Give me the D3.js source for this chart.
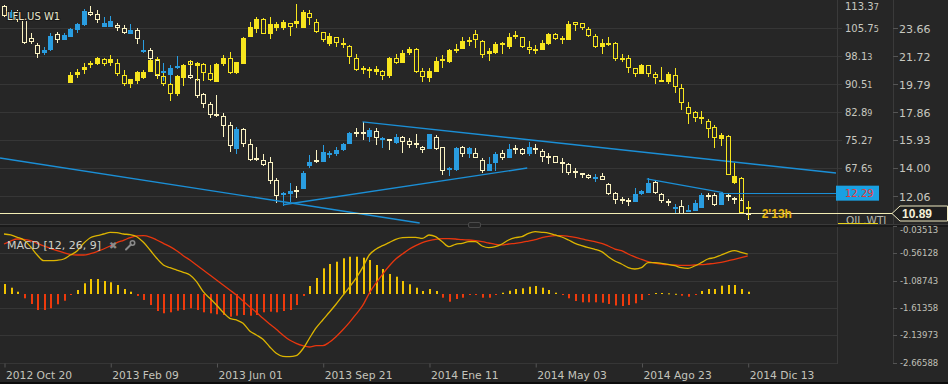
<!DOCTYPE html>
<html>
<head>
<meta charset="utf-8">
<script src="https://cdnjs.cloudflare.com/ajax/libs/d3/7.8.5/d3.min.js"></script>
<style>
  html, body { margin: 0; padding: 0; background: #262626; }
  #chart { width: 948px; height: 384px; overflow: hidden; }
</style>
</head>
<body>
<div id="chart"></div>
<script>
// weekly bars, index 0 = 2012 Oct 20
const dateIdx = [0, 16, 32, 48, 64, 80, 96, 112];
const dateLabels = ["2012 Oct 20", "2013 Feb 09", "2013 Jun 01", "2013 Sep 21", "2014 Ene 11", "2014 May 03", "2014 Ago 23", "2014 Dic 13"];

// last oil tick (60.03) sits under the alert box, so it gets a gridline but no label
const oilTicks = [113.37, 105.75, 98.13, 90.51, 82.89, 75.27, 67.65, 60.03];
const oilTickLabels = [113.37, 105.75, 98.13, 90.51, 82.89, 75.27, 67.65];
const lflTicks = [23.66, 21.72, 19.79, 17.86, 15.93, 14.00, 12.06];
const macdTicks = [-0.03513, -0.56128, -1.08743, -1.61358, -2.13973, -2.66588];

// LFL.US W1
const lflOpen = [25.18, 24.42, 24.76, 24.21, 22.97, 22.49, 22.01, 22.21, 23.25, 22.90,
  23.11, 23.59, 23.94, 24.76, 24.63, 23.80, 23.80, 23.87, 23.66, 23.32,
  23.52, 22.11, 22.14, 21.45, 20.63, 20.49, 21.01, 20.90, 20.42, 20.15,
  19.11, 18.42, 17.70, 17.59, 16.97, 15.39, 16.70, 15.66, 14.66, 14.56,
  14.42, 13.18, 12.25, 12.29, 12.46, 12.63, 14.22, 14.53, 14.49, 15.01,
  15.04, 15.32, 15.73, 16.46, 16.46, 16.22, 16.56, 16.04, 16.01, 15.80,
  16.15, 15.87, 15.70, 15.46, 15.39, 16.15, 15.46, 13.98, 13.94, 15.46,
  15.04, 15.04, 14.56, 13.87, 14.42, 15.04, 14.77, 15.35, 15.32, 15.04,
  15.35, 15.18, 14.80, 14.84, 14.39, 14.29, 13.77, 13.63, 13.53, 13.36,
  13.46, 12.91, 12.29, 11.84, 11.77, 11.73, 12.29, 12.36, 13.04, 12.22,
  11.70, 11.29, 11.39, 11.08, 11.11, 11.32, 12.11, 12.15, 11.53, 12.11,
  11.91, 11.80, 10.92];
const lflHigh = [25.25, 24.90, 24.90, 24.35, 23.32, 22.63, 22.35, 23.32, 23.38, 23.32,
  23.66, 24.00, 24.97, 25.18, 24.90, 24.42, 24.49, 24.00, 23.87, 23.94,
  23.66, 22.83, 22.28, 21.59, 21.25, 21.11, 21.73, 21.04, 21.39, 20.28,
  19.18, 18.56, 19.04, 17.80, 17.18, 16.84, 16.77, 16.01, 15.46, 14.97,
  14.77, 13.32, 12.36, 12.98, 12.77, 13.80, 14.91, 15.25, 15.60, 15.18,
  15.46, 15.73, 16.49, 16.77, 17.18, 16.77, 16.77, 16.15, 16.01, 16.35,
  16.22, 16.08, 16.35, 15.53, 16.35, 16.28, 15.46, 14.08, 15.46, 15.53,
  15.46, 15.39, 14.70, 14.77, 15.11, 15.25, 15.66, 15.60, 15.39, 15.80,
  15.66, 15.32, 15.04, 14.84, 14.70, 14.35, 14.01, 13.67, 13.60, 13.60,
  13.67, 12.98, 12.36, 12.01, 11.94, 12.63, 12.49, 13.32, 13.18, 12.29,
  11.87, 11.53, 11.80, 11.46, 11.80, 12.29, 12.29, 12.29, 12.36, 12.29,
  12.01, 11.94, 11.11];
const lflLow = [24.49, 24.35, 24.14, 22.63, 22.63, 21.66, 21.87, 22.14, 22.70, 22.90,
  23.11, 23.38, 23.87, 24.56, 24.07, 23.80, 23.80, 23.52, 23.32, 23.32,
  22.63, 22.01, 21.45, 20.28, 20.08, 19.87, 20.90, 20.49, 20.21, 18.90,
  18.21, 17.53, 17.59, 16.22, 15.18, 15.04, 15.53, 14.56, 14.56, 14.22,
  12.98, 11.67, 11.46, 11.73, 12.01, 12.63, 14.08, 14.42, 14.49, 14.77,
  14.91, 15.25, 15.73, 16.22, 16.01, 15.87, 15.66, 15.46, 15.32, 15.73,
  15.11, 15.46, 15.46, 15.11, 15.39, 15.32, 13.60, 13.53, 13.87, 14.84,
  14.77, 14.77, 13.73, 13.87, 13.87, 14.63, 14.77, 15.04, 14.97, 14.91,
  15.04, 14.49, 14.35, 14.42, 13.73, 13.60, 13.39, 13.39, 13.32, 13.11,
  13.25, 12.22, 11.60, 11.60, 11.46, 11.73, 12.22, 12.36, 12.29, 11.67,
  11.46, 10.98, 10.91, 11.05, 11.11, 11.32, 11.87, 11.46, 11.53, 11.80,
  11.60, 10.91, 10.49];
const lflClose = [24.56, 24.76, 24.28, 22.70, 22.76, 21.94, 22.14, 23.11, 22.90, 23.18,
  23.59, 23.94, 24.83, 24.63, 24.28, 24.00, 24.14, 23.73, 23.38, 23.52,
  22.97, 22.14, 21.59, 20.42, 20.66, 20.90, 21.04, 20.63, 20.28, 19.04,
  18.49, 17.73, 17.66, 16.97, 15.60, 16.70, 15.73, 14.63, 14.63, 14.29,
  13.18, 12.15, 12.29, 12.42, 12.42, 13.67, 14.42, 14.49, 15.11, 15.04,
  15.25, 15.66, 16.42, 16.42, 16.39, 16.63, 16.15, 16.08, 15.94, 16.15,
  15.87, 15.66, 15.63, 15.32, 16.35, 15.39, 13.87, 14.01, 15.39, 15.04,
  15.39, 14.77, 13.87, 14.29, 14.97, 14.77, 15.32, 15.28, 15.04, 15.46,
  15.28, 14.84, 14.73, 14.42, 14.35, 13.73, 13.70, 13.56, 13.39, 13.39,
  13.25, 12.29, 11.87, 11.77, 11.70, 12.22, 12.42, 12.98, 12.36, 11.80,
  11.63, 11.32, 10.91, 11.11, 11.60, 12.15, 12.05, 11.53, 12.29, 12.05,
  11.84, 10.98, 10.89];

// OIL.WTI overlay (starts at bar 10)
const oilOpen = [null, null, null, null, null, null, null, null, null, null,
  91.05, 93.23, 94.59, 96.09, 96.23, 97.31, 96.50, 96.23, 92.96, 90.78,
  91.60, 92.42, 94.05, 97.31, 92.69, 90.51, 88.06, 92.42, 96.77, 95.68,
  95.95, 93.50, 91.33, 96.23, 97.59, 93.78, 96.23, 103.57, 105.75, 108.20,
  104.39, 106.02, 106.02, 107.11, 107.11, 106.02, 109.83, 107.38, 104.66, 101.67,
  103.30, 101.67, 100.85, 97.59, 94.73, 94.59, 94.05, 94.05, 92.96, 97.59,
  96.50, 99.22, 100.04, 94.05, 92.42, 94.05, 97.04, 96.77, 99.90, 100.31,
  102.35, 104.12, 102.21, 98.95, 99.22, 101.53, 100.85, 103.71, 103.30, 100.58,
  100.17, 100.04, 101.67, 104.12, 102.89, 102.76, 107.38, 107.11, 105.48, 103.57,
  100.85, 101.53, 101.67, 97.72, 97.59, 94.86, 93.50, 95.68, 93.23, 91.46,
  91.33, 92.96, 89.42, 84.25, 82.89, 81.53, 80.44, 78.81, 75.81, 76.36,
  63.84, 64.93, 56.90];
const oilHigh = [null, null, null, null, null, null, null, null, null, null,
  93.78, 94.59, 96.23, 96.77, 97.86, 97.59, 98.40, 97.31, 94.32, 91.87,
  94.05, 94.32, 97.31, 97.86, 93.50, 90.78, 92.96, 95.95, 97.04, 96.50,
  96.23, 95.68, 96.23, 98.40, 99.22, 96.50, 103.30, 107.38, 108.74, 108.47,
  108.74, 107.38, 107.93, 107.11, 112.28, 110.65, 110.65, 108.20, 104.66, 104.39,
  103.30, 103.03, 101.12, 98.67, 95.41, 95.14, 95.41, 94.32, 97.86, 98.67,
  99.76, 100.58, 100.31, 94.86, 94.86, 97.86, 98.40, 100.04, 101.40, 103.30,
  103.30, 105.21, 102.48, 100.31, 101.94, 101.94, 104.39, 104.93, 103.30, 102.21,
  101.12, 102.48, 104.39, 104.39, 103.57, 107.66, 107.38, 107.11, 106.02, 104.12,
  102.76, 103.30, 101.94, 98.67, 98.40, 94.86, 95.95, 95.68, 93.78, 95.14,
  93.78, 94.86, 90.51, 85.61, 83.16, 83.16, 80.99, 79.35, 77.18, 76.63,
  69.01, 65.20, 58.67];
const oilLow = [null, null, null, null, null, null, null, null, null, null,
  91.05, 92.42, 93.50, 95.14, 95.95, 95.68, 95.68, 92.96, 90.24, 89.69,
  90.78, 92.14, 94.05, 92.14, 90.24, 86.16, 87.52, 90.24, 95.68, 91.60,
  91.60, 91.60, 91.33, 95.68, 93.50, 93.50, 96.23, 103.57, 104.66, 104.39,
  103.03, 105.21, 105.48, 103.85, 106.02, 106.02, 106.84, 104.66, 102.21, 101.12,
  100.85, 100.58, 96.23, 94.32, 93.50, 92.42, 93.23, 91.87, 92.42, 96.23,
  96.50, 98.67, 93.78, 91.33, 91.33, 94.05, 95.14, 96.50, 99.22, 100.31,
  101.12, 100.58, 97.86, 97.04, 98.95, 98.95, 100.31, 103.03, 100.58, 98.95,
  98.95, 100.04, 101.40, 102.76, 101.67, 102.76, 105.21, 105.48, 103.57, 100.58,
  98.95, 101.12, 97.04, 96.77, 93.78, 92.69, 93.50, 92.69, 90.78, 91.33,
  90.78, 88.33, 83.71, 79.90, 80.44, 79.90, 76.09, 73.37, 73.91, 66.02,
  63.57, 55.40, 54.04];
const oilClose = [null, null, null, null, null, null, null, null, null, null,
  92.96, 93.78, 95.14, 96.23, 97.59, 96.23, 97.31, 93.50, 90.78, 91.87,
  93.78, 93.78, 97.04, 93.23, 90.78, 88.06, 92.69, 95.68, 95.95, 96.23,
  93.78, 91.87, 95.95, 97.59, 93.78, 96.50, 103.03, 106.02, 108.20, 104.39,
  106.84, 106.84, 107.38, 106.29, 107.66, 110.10, 108.74, 104.93, 102.76, 103.57,
  101.94, 101.53, 98.13, 94.59, 94.59, 94.46, 94.59, 92.96, 97.59, 96.50,
  98.95, 100.04, 94.05, 92.69, 94.05, 96.77, 97.31, 99.76, 100.04, 102.21,
  102.48, 102.76, 98.67, 99.49, 101.40, 101.67, 103.30, 103.85, 100.85, 100.04,
  100.04, 101.67, 104.12, 103.03, 103.03, 106.84, 106.84, 106.02, 103.85, 100.85,
  101.67, 101.67, 97.59, 97.59, 95.14, 93.50, 95.68, 93.50, 92.42, 91.60,
  93.23, 89.97, 85.61, 82.62, 81.53, 81.39, 78.54, 76.09, 76.63, 66.02,
  65.47, 55.68, 57.17];

// MACD [12, 26, 9]
const macdLine = [-0.190, -0.209, -0.253, -0.305, -0.434, -0.594, -0.704, -0.704, -0.696, -0.671,
  -0.594, -0.517, -0.369, -0.261, -0.223, -0.190, -0.157, -0.165, -0.190, -0.203,
  -0.242, -0.350, -0.498, -0.657, -0.786, -0.838, -0.883, -0.927, -0.979, -1.108,
  -1.300, -1.427, -1.556, -1.696, -1.812, -1.844, -1.908, -2.056, -2.133, -2.216,
  -2.358, -2.485, -2.543, -2.550, -2.531, -2.402, -2.196, -1.998, -1.844, -1.696,
  -1.542, -1.377, -1.215, -1.042, -0.838, -0.594, -0.484, -0.415, -0.357, -0.292,
  -0.261, -0.253, -0.253, -0.273, -0.209, -0.242, -0.338, -0.434, -0.388, -0.369,
  -0.338, -0.338, -0.421, -0.454, -0.434, -0.382, -0.305, -0.261, -0.242, -0.177,
  -0.146, -0.157, -0.171, -0.209, -0.248, -0.305, -0.369, -0.415, -0.454, -0.484,
  -0.530, -0.627, -0.709, -0.767, -0.838, -0.863, -0.838, -0.742, -0.742, -0.754,
  -0.773, -0.800, -0.838, -0.850, -0.806, -0.742, -0.671, -0.646, -0.594, -0.542,
  -0.511, -0.542, -0.575];
const signalLine = [-0.382, -0.325, -0.286, -0.292, -0.319, -0.369, -0.421, -0.465, -0.511, -0.550,
  -0.581, -0.594, -0.594, -0.569, -0.530, -0.479, -0.421, -0.357, -0.311, -0.261,
  -0.228, -0.223, -0.248, -0.305, -0.369, -0.434, -0.511, -0.607, -0.690, -0.786,
  -0.883, -0.979, -1.075, -1.171, -1.267, -1.363, -1.479, -1.589, -1.696, -1.812,
  -1.921, -2.023, -2.133, -2.229, -2.293, -2.339, -2.364, -2.339, -2.339, -2.273,
  -2.166, -2.037, -1.896, -1.735, -1.569, -1.331, -1.138, -0.965, -0.806, -0.671,
  -0.575, -0.484, -0.415, -0.357, -0.319, -0.292, -0.280, -0.280, -0.286, -0.300,
  -0.305, -0.319, -0.338, -0.363, -0.388, -0.401, -0.382, -0.369, -0.350, -0.325,
  -0.300, -0.261, -0.234, -0.223, -0.223, -0.234, -0.253, -0.286, -0.311, -0.338,
  -0.369, -0.421, -0.479, -0.511, -0.575, -0.632, -0.677, -0.723, -0.748, -0.767,
  -0.781, -0.786, -0.792, -0.792, -0.786, -0.781, -0.767, -0.754, -0.734, -0.709,
  -0.677, -0.646, -0.613];
const macdHist = [0.192, 0.121, 0.044, -0.083, -0.192, -0.308, -0.308, -0.275, -0.198, -0.129,
  -0.019, 0.077, 0.206, 0.288, 0.288, 0.250, 0.225, 0.173, 0.096, 0.044,
  -0.038, -0.115, -0.212, -0.327, -0.371, -0.352, -0.321, -0.308, -0.275, -0.308,
  -0.352, -0.371, -0.390, -0.404, -0.437, -0.417, -0.404, -0.417, -0.404, -0.352,
  -0.340, -0.352, -0.327, -0.308, -0.212, -0.038, 0.154, 0.308, 0.494, 0.577,
  0.621, 0.687, 0.717, 0.717, 0.698, 0.654, 0.558, 0.481, 0.385, 0.333,
  0.250, 0.187, 0.121, 0.058, 0.096, 0.058, -0.071, -0.148, -0.096, -0.071,
  -0.019, -0.006, -0.071, -0.071, -0.019, 0.025, 0.063, 0.096, 0.110, 0.140,
  0.154, 0.121, 0.077, 0.025, -0.019, -0.083, -0.135, -0.160, -0.160, -0.160,
  -0.167, -0.192, -0.221, -0.231, -0.212, -0.179, -0.115, -0.013, 0.019, 0.019,
  0.013, 0.004, -0.033, -0.052, -0.013, 0.058, 0.096, 0.096, 0.160, 0.173,
  0.173, 0.096, 0.044];

// trend lines drawn on the LFL scale: [bar, price] -> [bar, price]
const trendLines = [
  [[-0.6, 14.68], [62.6, 10.20]],
  [[42.0, 11.46], [78.8, 13.99]],
  [[54.0, 17.18], [125.3, 13.65]],
  [[96.8, 13.24], [108.3, 12.29]]
];
const alertLevel = 12.29;
const alertFrom = 108.3;
const lastPrice = 10.89;

const drawChart = () => {

    const W = 948, H = 384;
    const plotRight = 837, axis2X = 893;
    const font = "'DejaVu Sans', Verdana, sans-serif";
    const arial = "'Liberation Sans', Arial, sans-serif";
    const crisp = (v) => Math.round(v) + 0.5;

    const svg = d3.select("#chart")
        .append("svg")
        .attr("width", W)
        .attr("height", H);

    svg.append("rect").attr("width", W).attr("height", H).attr("fill", "#262626");

    // Scales
    const x = d3.scaleLinear().domain([0, 112]).range([4, 747.7]);
    const yOil = d3.scaleLinear().domain([113.37, 60.03]).range([0, 196]);
    const yLfl = d3.scaleLinear().domain([23.66, 12.06]).range([28, 196]);
    const yMacd = d3.scaleLinear().domain([-0.56128, -2.66588]).range([253.3, 362.7]);
    const yHist = d3.scaleLinear().domain([0, 1]).range([294, 242]);

    const defs = svg.append("defs");
    defs.append("clipPath").attr("id", "clipTop")
        .append("rect").attr("x", 0).attr("y", 0).attr("width", plotRight).attr("height", 224);
    defs.append("clipPath").attr("id", "clipBot")
        .append("rect").attr("x", 0).attr("y", 227).attr("width", plotRight).attr("height", 136);

    // Gridlines top panel
    svg.append("g")
        .selectAll("line")
        .data(oilTicks.filter((d) => yOil(d) > 1))
        .join("line")
        .attr("x1", 0).attr("x2", plotRight + 5)
        .attr("y1", (d) => crisp(yOil(d))).attr("y2", (d) => crisp(yOil(d)))
        .attr("stroke", "#363636");

    // Gridlines MACD panel
    svg.append("g")
        .selectAll("line")
        .data(macdTicks.slice(1))
        .join("line")
        .attr("x1", 0).attr("x2", plotRight)
        .attr("y1", (d) => crisp(yMacd(d))).attr("y2", (d) => crisp(yMacd(d)))
        .attr("stroke", "#363636");

    // Axis divider lines
    [plotRight, axis2X].forEach((xx) => {
        svg.append("line")
            .attr("x1", xx + 0.5).attr("x2", xx + 0.5)
            .attr("y1", 0).attr("y2", 364)
            .attr("stroke", "#3a3a3a");
    });

    // Panel separator + splitter handle
    svg.append("line").attr("x1", 0).attr("x2", W).attr("y1", 224.5).attr("y2", 224.5).attr("stroke", "#3a3a3a");
    svg.append("rect").attr("x", 0).attr("y", 225).attr("width", W).attr("height", 2).attr("fill", "#1a1a1a");
    svg.append("rect").attr("x", 468.5).attr("y", 222.5).attr("width", 12).attr("height", 5).attr("rx", 1.5)
        .attr("fill", "#262626").attr("stroke", "#4a4a4a");

    // Candles
    const drawCandles = (g, o, h, l, c, y, upFill, downStroke) => {
        const idx = d3.range(o.length).filter((i) => o[i] !== null);
        const top = (i) => crisp(y(Math.max(o[i], c[i])));
        const bot = (i) => Math.max(crisp(y(Math.min(o[i], c[i]))), top(i) + 1);
        const col = (i) => (c[i] >= o[i] ? upFill : downStroke);
        const cx = (i) => crisp(x(i));

        g.selectAll(null).data(idx).join("line")
            .attr("x1", cx).attr("x2", cx)
            .attr("y1", (i) => Math.round(y(h[i]))).attr("y2", top)
            .attr("stroke", col);
        g.selectAll(null).data(idx).join("line")
            .attr("x1", cx).attr("x2", cx)
            .attr("y1", bot).attr("y2", (i) => Math.round(y(l[i])) + 1)
            .attr("stroke", col);
        g.selectAll(null).data(idx).join("rect")
            .attr("x", (i) => cx(i) - 2)
            .attr("width", 4)
            .attr("y", top)
            .attr("height", (i) => bot(i) - top(i))
            .attr("fill", (i) => (c[i] >= o[i] ? upFill : "none"))
            .attr("stroke", col)
            .attr("stroke-width", 1);
    };

    const topG = svg.append("g").attr("clip-path", "url(#clipTop)");

    drawCandles(topG.append("g"), lflOpen, lflHigh, lflLow, lflClose, yLfl, "#2a9de0", "#fbf3c2");

    // Trend lines
    topG.append("g")
        .selectAll("line")
        .data(trendLines)
        .join("line")
        .attr("x1", (d) => x(d[0][0])).attr("y1", (d) => yLfl(d[0][1]))
        .attr("x2", (d) => x(d[1][0])).attr("y2", (d) => yLfl(d[1][1]))
        .attr("stroke", "#1b8fd6")
        .attr("stroke-width", 1.4);

    drawCandles(topG.append("g"), oilOpen, oilHigh, oilLow, oilClose, yOil, "#f7e51e", "#f7e51e");

    // Alert level line and box
    svg.append("line")
        .attr("x1", x(alertFrom)).attr("x2", plotRight)
        .attr("y1", crisp(yLfl(alertLevel))).attr("y2", crisp(yLfl(alertLevel)))
        .attr("stroke", "#1b8fd6").attr("stroke-width", 1.2);

    // Left (oil) axis labels with small last digit
    const oilLab = svg.append("g").attr("font-family", font).attr("font-size", 10).attr("fill", "#c8c8c0");
    oilTickLabels.forEach((v) => {
        const s = v.toFixed(2);
        const t = oilLab.append("text")
            .attr("x", 845)
            .attr("y", Math.max(yOil(v) + 4, 10));
        t.append("tspan").text(s.slice(0, -1));
        t.append("tspan").attr("font-size", 8).text(s.slice(-1));
    });

    // Right (LFL) axis labels
    const lflLab = svg.append("g").attr("font-family", font).attr("font-size", 11).attr("fill", "#c8c8c0");
    lflTicks.forEach((v) => {
        lflLab.append("line")
            .attr("x1", axis2X).attr("x2", axis2X + 5)
            .attr("y1", crisp(yLfl(v))).attr("y2", crisp(yLfl(v)))
            .attr("stroke", "#555");
        lflLab.append("text").attr("x", 899).attr("y", yLfl(v) + 4.5).text(v.toFixed(2));
    });

    svg.append("rect")
        .attr("x", 836).attr("y", yLfl(alertLevel) - 7)
        .attr("width", 43).attr("height", 15)
        .attr("fill", "#1aa0e2");
    svg.append("text")
        .attr("x", 845).attr("y", yLfl(alertLevel) + 4)
        .attr("font-family", font).attr("font-size", 10)
        .attr("fill", "#e8383a")
        .text(alertLevel.toFixed(2));

    // OIL.WTI tag
    svg.append("text")
        .attr("x", 846).attr("y", 223.5)
        .attr("font-family", font).attr("font-size", 10.5)
        .attr("fill", "#b8b8b0")
        .text("OIL.WTI");
    svg.append("line")
        .attr("x1", 838).attr("x2", 878).attr("y1", 223.5).attr("y2", 223.5)
        .attr("stroke", "#e6d21a").attr("stroke-width", 1.2);

    // Last price line and tag
    const yLast = crisp(yLfl(lastPrice));
    svg.append("line")
        .attr("x1", 0).attr("x2", 892)
        .attr("y1", yLast).attr("y2", yLast)
        .attr("stroke", "#f3edb4");
    svg.append("path")
        .attr("d", `M892,${yLast} L900,${yLast - 7.5} L947.5,${yLast - 7.5} L947.5,${yLast + 7.5} L900,${yLast + 7.5} Z`)
        .attr("fill", "#1e1e1e")
        .attr("stroke", "#efe9c0");
    svg.append("text")
        .attr("x", 902).attr("y", yLast + 4.5)
        .attr("font-family", arial).attr("font-size", 12).attr("font-weight", "bold")
        .attr("fill", "#f4f0d8")
        .text(lastPrice.toFixed(2));

    // Bar countdown
    svg.append("text")
        .attr("x", x(112) + 14).attr("y", 217.5)
        .attr("font-family", arial).attr("font-size", 12).attr("font-weight", "bold")
        .attr("fill", "#e6b610")
        .text("2'13h");

    // Symbol label
    svg.append("text")
        .attr("x", 7).attr("y", 19.5)
        .attr("font-family", font).attr("font-size", 10)
        .attr("fill", "#e8e6cc")
        .attr("stroke", "#1a1a1a").attr("stroke-width", 2.2)
        .attr("paint-order", "stroke")
        .text("LFL.US W1");

    // MACD panel
    const botG = svg.append("g").attr("clip-path", "url(#clipBot)");

    botG.append("g")
        .selectAll("rect")
        .data(macdHist)
        .join("rect")
        .attr("x", (d, i) => Math.round(x(i)))
        .attr("width", 2)
        .attr("y", (d) => Math.min(yHist(d), yHist(0)))
        .attr("height", (d) => Math.max(Math.abs(yHist(d) - yHist(0)), 1))
        .attr("fill", (d) => (d >= 0 ? "#f2c400" : "#ee3a0c"));

    const line = d3.line().x((d, i) => x(i)).y((d) => yMacd(d)).curve(d3.curveMonotoneX);

    botG.append("path")
        .datum(signalLine)
        .attr("fill", "none")
        .attr("stroke", "#e8360e")
        .attr("stroke-width", 1.3)
        .attr("d", line);

    botG.append("path")
        .datum(macdLine)
        .attr("fill", "none")
        .attr("stroke", "#dcb400")
        .attr("stroke-width", 1.3)
        .attr("d", line);

    svg.append("text")
        .attr("x", 7).attr("y", 249)
        .attr("font-family", font).attr("font-size", 11)
        .attr("fill", "#d0d0c8")
        .text("MACD [12, 26, 9]");
    svg.append("text")
        .attr("x", 109).attr("y", 249)
        .attr("font-family", font).attr("font-size", 10)
        .attr("fill", "#8a8a8a")
        .text("\u2716");
    // wrench icon
    svg.append("path")
        .attr("d", "M126,249.5 L131,244.5")
        .attr("stroke", "#8a8a8a").attr("stroke-width", 2).attr("stroke-linecap", "round");
    svg.append("circle")
        .attr("cx", 132.5).attr("cy", 243).attr("r", 2.2)
        .attr("fill", "none").attr("stroke", "#8a8a8a").attr("stroke-width", 1.6);

    // MACD axis labels
    const macdLab = svg.append("g").attr("font-family", font).attr("font-size", 8.5).attr("fill", "#c0c0b8");
    macdTicks.forEach((v) => {
        macdLab.append("line")
            .attr("x1", axis2X).attr("x2", axis2X + 4)
            .attr("y1", crisp(yMacd(v))).attr("y2", crisp(yMacd(v)))
            .attr("stroke", "#555");
        macdLab.append("text")
            .attr("x", 900)
            .attr("y", Math.max(yMacd(v) + 3, 233))
            .text(v.toFixed(5));
    });

    // Date axis
    const xAxis = d3.axisBottom(x)
        .tickValues(dateIdx)
        .tickSize(4)
        .tickFormat((d, i) => dateLabels[i]);

    const xg = svg.append("g")
        .attr("transform", `translate(0.5,${crisp(yMacd(-2.66588))})`)
        .call(xAxis);
    xg.select(".domain").remove();
    xg.selectAll("line").attr("stroke", "#555");
    xg.selectAll("text")
        .attr("text-anchor", "start")
        .attr("dx", 1)
        .attr("y", 8)
        .attr("font-family", font)
        .attr("font-size", 10.7)
        .attr("fill", "#c4c4bc");

    svg.append("rect").attr("x", 0).attr("y", 382).attr("width", W).attr("height", 2).attr("fill", "#0c0c0c");
};

drawChart();
</script>
</body>
</html>
